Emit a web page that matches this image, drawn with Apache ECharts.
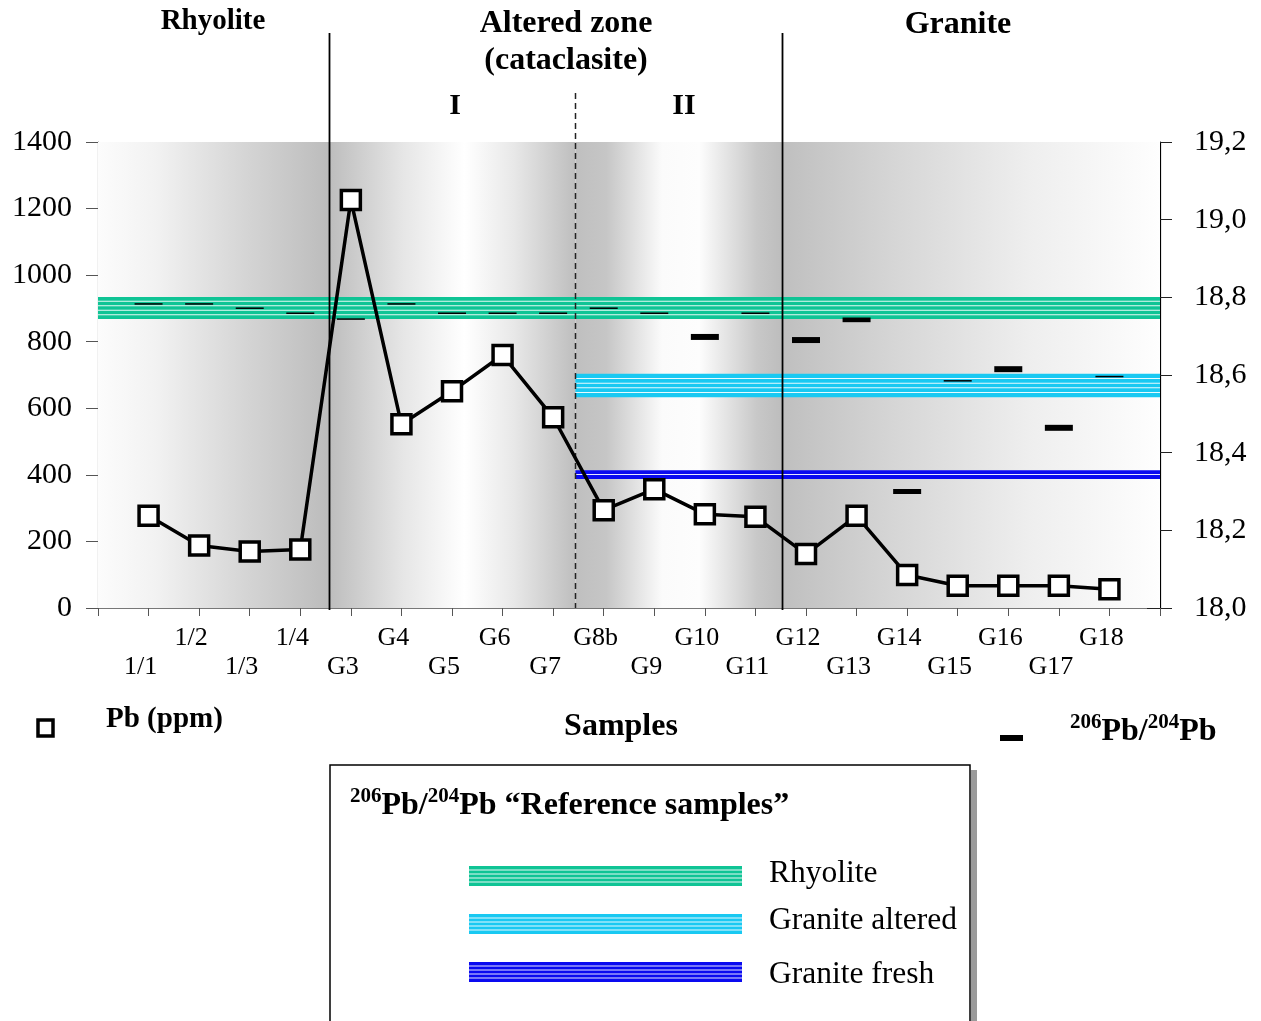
<!DOCTYPE html>
<html><head><meta charset="utf-8">
<script src="https://cdn.jsdelivr.net/npm/echarts@6/dist/echarts.min.js"></script>
<style>html,body{margin:0;padding:0;background:#fff}#c{width:1261px;height:1021px}</style>
</head><body><div id="c"></div>
<script>
// ---------------- data ----------------
const samples = ['1/1','1/2','1/3','1/4','G3','G4','G5','G6','G7','G8b','G9','G10','G11','G12','G13','G14','G15','G16','G17','G18'];
const pbPpm = [277,188,170,176,1226,552,651,760,573,294,357,282,274,162,277,99,67,67,67,56];
const pbRatio = [18.783,18.783,18.772,18.759,18.744,18.783,18.759,18.759,18.759,18.772,18.759,18.698,18.759,18.690,18.742,18.300,18.585,18.615,18.464,18.596];
const pbRatioErr = [0,0,0,0,0,0,0,0,0,0,0,0.0077,0,0.0077,0.006,0.0065,0,0.0077,0.0077,0];
const refNames = ['Rhyolite','Granite altered','Granite fresh'];
const refFrom = [0, 9.44, 9.44];     // sample-axis position where the reference band starts
const refTo = [21, 21, 21];
const refLow = [18.744, 18.543, 18.332];
const refHigh = [18.801, 18.603, 18.355];
const zoneEdges = [0, 4.57, 9.44, 13.52, 21];   // Rhyolite | Altered I | Altered II | Granite
const pbTicks = [0, 1400, 200];
const ratioTicks = [18.0, 19.2, 0.2];

// ---------------- styles ----------------
const SERIF = '"Liberation Serif","Times New Roman",serif';
const bandColors = ['#0fc495', '#19c9f2', '#0a0af0'];
const zoneGradients = [
  [[0,'#fcfcfc'],[0.25,'#f2f2f2'],[0.65,'#d4d4d4'],[1,'#bcbcbc']],
  [[0,'#bdbdbd'],[0.3,'#e6e6e6'],[0.55,'#ffffff'],[0.75,'#e8e8e8'],[1,'#bebebe']],
  [[0,'#bfbfbf'],[0.15,'#c6c6c6'],[0.42,'#fbfbfb'],[0.6,'#fdfdfd'],[0.88,'#c8c8c8'],[1,'#bdbdbd']],
  [[0,'#bfbfbf'],[0.3,'#d6d6d6'],[0.65,'#eeeeee'],[1,'#fefefe']]
];
function grad(stops){ return new echarts.graphic.LinearGradient(0,0,1,0, stops.map(s=>({offset:s[0], color:s[1]}))); }

function stripes(x, y, w, h, color){
  const kids = [{type:'rect', shape:{x, y, width:w, height:h}, style:{fill:color}}];
  const n = Math.max(2, Math.round(h/4.4));
  for (let i=1;i<n;i++){
    const yy = y + h*i/n;
    kids.push({type:'rect', shape:{x, y:yy-0.5, width:w, height:1}, style:{fill:'rgba(255,255,255,0.9)'}});
  }
  return kids;
}

const chart = echarts.init(document.getElementById('c'), null, {renderer:'canvas'});

const bandData = refNames.map((n,i)=>[refFrom[i], refTo[i], refLow[i], refHigh[i]]);
const ratioData = pbRatio.map((v,i)=>[i+1, v, pbRatioErr[i]]);
const pbData = pbPpm.map((v,i)=>[i+1, v]);
const zoneAreas = zoneGradients.map((g,i)=>[
  {xAxis: zoneEdges[i], itemStyle:{color: grad(g)}},
  {xAxis: zoneEdges[i+1]}
]);
const lineData = [[zoneEdges[1],0],[zoneEdges[2],1],[zoneEdges[3],0]];

const bold = (size)=>'bold '+size+'px '+SERIF;
const reg = (size)=>size+'px '+SERIF;
const sup = {s:{fontSize:21, fontWeight:'bold', fontFamily:SERIF, verticalAlign:'top', lineHeight:36, fill:'#000'}, m:{fontSize:32, fontWeight:'bold', fontFamily:SERIF, lineHeight:36, verticalAlign:'bottom', fill:'#000'}};

const graphics = [
  {type:'text', x:213, y:22, style:{text:'Rhyolite', font:bold(29), fill:'#000', align:'center', verticalAlign:'middle'}},
  {type:'text', x:566, y:24, style:{text:'Altered zone', font:bold(32), fill:'#000', align:'center', verticalAlign:'middle'}},
  {type:'text', x:566, y:61, style:{text:'(cataclasite)', font:bold(32), fill:'#000', align:'center', verticalAlign:'middle'}},
  {type:'text', x:958, y:25, style:{text:'Granite', font:bold(32), fill:'#000', align:'center', verticalAlign:'middle'}},
  {type:'text', x:455, y:106, style:{text:'I', font:bold(30), fill:'#000', align:'center', verticalAlign:'middle'}},
  {type:'text', x:684, y:106, style:{text:'II', font:bold(30), fill:'#000', align:'center', verticalAlign:'middle'}},
  // key below the axis
  {type:'rect', shape:{x:38, y:720, width:15, height:16}, style:{fill:'#fff', stroke:'#000', lineWidth:3.5}},
  {type:'text', x:106, y:720, style:{text:'Pb (ppm)', font:bold(29), fill:'#000', align:'left', verticalAlign:'middle'}},
  {type:'text', x:621, y:727, style:{text:'Samples', font:bold(32), fill:'#000', align:'center', verticalAlign:'middle'}},
  {type:'rect', shape:{x:1000, y:735, width:23, height:6}, style:{fill:'#000'}},
  {type:'text', x:1070, y:730, style:{text:'{s|206}{m|Pb/}{s|204}{m|Pb}', rich:sup, align:'left', verticalAlign:'middle'}},
  // reference box
  {type:'rect', shape:{x:971, y:770, width:6, height:252}, style:{fill:'#9a9a9a'}},
  {type:'rect', shape:{x:330, y:765, width:640, height:260}, style:{fill:'#fff', stroke:'#000', lineWidth:1.5}},
  {type:'text', x:350, y:804, style:{text:'{s|206}{m|Pb/}{s|204}{m|Pb “Reference samples”}', rich:sup, align:'left', verticalAlign:'middle'}},
];
const keyY = [866, 914, 962];
const keyH = [20, 20, 20];
refNames.forEach((n,i)=>{
  graphics.push({type:'group', children: stripes(469, keyY[i], 273, keyH[i], bandColors[i])});
  graphics.push({type:'text', x:769, y:[874,921,975][i], style:{text:n, font:reg(31.5), fill:'#000', align:'left', verticalAlign:'middle'}});
});

chart.setOption({
  animation:false,
  backgroundColor:'#fff',
  grid:{left:98, top:142, width:1062, height:466, containLabel:false},
  xAxis:{type:'value', min:0, max:21, interval:1,
    axisLine:{lineStyle:{color:'#777', width:1.2}},
    axisTick:{length:8, lineStyle:{color:'#555'}},
    splitLine:{show:false},
    axisLabel:{margin:16, color:'#000', fontFamily:SERIF, fontSize:26, lineHeight:29, padding:[0,16,0,0],
      formatter:(v)=>{ const k=Math.round(v); if(k<1||k>20) return ''; const name=samples[k-1]; return (k%2===1)?'\n'+name:name; }}
  },
  yAxis:[
    {type:'value', min:pbTicks[0], max:pbTicks[1], interval:pbTicks[2], position:'left',
      axisLine:{show:true, lineStyle:{color:'#777', width:1.2}}, axisTick:{show:true, length:12, lineStyle:{color:'#555'}},
      splitLine:{show:false}, axisLabel:{margin:26, color:'#000', fontFamily:SERIF, fontSize:30, formatter:(v)=>String(v)}},
    {type:'value', min:ratioTicks[0], max:ratioTicks[1], interval:ratioTicks[2], position:'right',
      axisLine:{show:true, lineStyle:{color:'#000', width:1.2}}, axisTick:{show:true, length:12, lineStyle:{color:'#222'}},
      splitLine:{show:false}, axisLabel:{margin:34, color:'#000', fontFamily:SERIF, fontSize:30, formatter:(v)=>v.toFixed(1).replace('.',',')}},
    {type:'value', min:ratioTicks[0], max:ratioTicks[1], interval:ratioTicks[2], position:'right',
      axisLine:{show:false}, axisTick:{show:true, inside:true, length:13, lineStyle:{color:'#222'}},
      splitLine:{show:false}, axisLabel:{show:false}}
  ],
  graphic: graphics,
  series:[
    {type:'line', data:[], z:0, markArea:{silent:true, data: zoneAreas}},
    {type:'custom', yAxisIndex:1, z:2, data: bandData, encode:{x:[0,1], y:[2,3]},
      renderItem:(p, api)=>{
        const a = api.coord([api.value(0), api.value(3)]);
        const b = api.coord([api.value(1), api.value(2)]);
        return {type:'group', children: stripes(a[0], a[1], b[0]-a[0], b[1]-a[1], bandColors[p.dataIndex])};
      }},
    {type:'custom', z:3, clip:false, data: lineData, encode:{x:0},
      renderItem:(p, api)=>{
        const x = Math.round(api.coord([api.value(0), 0])[0]) + 0.5;
        const bottom = api.coord([api.value(0), 0])[1] + (api.value(1) ? 0 : 2);
        const dashed = api.value(1) === 1;
        return {type:'line', shape:{x1:x, y1: dashed ? 93 : 33, x2:x, y2:bottom},
          style:{stroke: dashed ? '#222' : '#000', lineWidth: dashed ? 1.5 : 1.8, lineDash: dashed ? [6,4] : null}};
      }},
    {type:'custom', yAxisIndex:1, z:4, data: ratioData, encode:{x:0, y:1},
      renderItem:(p, api)=>{
        const v = api.value(1), e = api.value(2);
        const c = api.coord([api.value(0), v]);
        const hi = api.coord([api.value(0), v+e])[1], lo = api.coord([api.value(0), v-e])[1];
        const h = Math.max(1.5, lo-hi);
        return {type:'rect', shape:{x:c[0]-14, y:c[1]-h/2, width:28, height:h}, style:{fill:'#000'}};
      }},
    {type:'line', z:5, data: pbData, symbol:'rect', symbolSize:19, showSymbol:true,
      lineStyle:{color:'#000', width:3.5}, itemStyle:{color:'#fff', borderColor:'#000', borderWidth:3.5}}
  ]
});
</script></body></html>
